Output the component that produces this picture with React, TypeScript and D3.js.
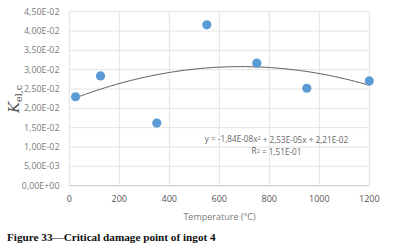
import React from "react";
import * as d3 from "d3";

const temps = [25, 125, 350, 550, 750, 950, 1200];
const kValues = [0.0230, 0.0284, 0.0162, 0.0416, 0.0317, 0.0252, 0.0271];
const yTicks = [0, 0.005, 0.01, 0.015, 0.02, 0.025, 0.03, 0.035, 0.04, 0.045];
const xTicks = [0, 200, 400, 600, 800, 1000, 1200];
const trendCoef = [-1.84e-8, 2.53e-5, 2.21e-2];
const eqText = "y = -1,84E-08x";
const eqText2 = " + 2,53E-05x + 2,21E-02";
const r2Text = " = 1,51E-01";
const xTitle = "Temperature (°C)";
const caption = "Figure 33—Critical damage point of ingot 4";

function fmtY(v: number): string {
  if (v === 0) return "0,00E+00";
  const e = Math.floor(Math.log10(v) + 1e-9);
  const m = v / Math.pow(10, e);
  const sign = e < 0 ? "-" : "+";
  const ee = String(Math.abs(e)).padStart(2, "0");
  return m.toFixed(2).replace(".", ",") + "E" + sign + ee;
}

export default function App() {
  const x = d3.scaleLinear().domain([0, 1200]).range([69.3, 369.3]);
  const y = d3.scaleLinear().domain([0, 0.045]).range([185.7, 11.7]);
  const trendX = d3.range(temps[0], temps[temps.length - 1] + 1, 5);
  const line = d3
    .line<number>()
    .x((t) => x(t))
    .y((t) => y(trendCoef[0] * t * t + trendCoef[1] * t + trendCoef[2]));
  const font = "'Open Sans', 'Liberation Sans', sans-serif";
  return (
    <svg
      width={394}
      height={252}
      style={{ position: "absolute", left: 0, top: 0, background: "#fff" }}
    >
      {yTicks.map((t) => (
        <line key={"gy" + t} x1={x(0)} x2={x(1200)} y1={y(t)} y2={y(t)} stroke="#e3e3e3" strokeWidth={1} />
      ))}
      {xTicks.map((t) => (
        <line key={"gx" + t} x1={x(t)} x2={x(t)} y1={y(0)} y2={y(0.045)} stroke="#e3e3e3" strokeWidth={1} />
      ))}
      <line x1={x(0)} x2={x(1200)} y1={y(0)} y2={y(0)} stroke="#cfcfcf" strokeWidth={1} />
      {yTicks.map((t) => (
        <text key={"ty" + t} x={59.5} y={y(t)} dy="0.35em" textAnchor="end" fontSize={8.9} fill="#7a7a7a" fontFamily={font}>
          {fmtY(t)}
        </text>
      ))}
      {xTicks.map((t) => (
        <text key={"tx" + t} x={x(t)} y={199} dy="0.35em" textAnchor="middle" fontSize={9} fill="#555" fontFamily={font}>
          {t}
        </text>
      ))}
      <text x={219.5} y={216.5} dy="0.35em" textAnchor="middle" fontSize={9} fill="#7a7a7a" fontFamily={font}>
        {xTitle}
      </text>
      <path d={line(trendX) || ""} fill="none" stroke="#444" strokeWidth={0.9} />
      {temps.map((t, i) => (
        <circle key={"p" + i} cx={x(t)} cy={y(kValues[i])} r={4.6} fill="#5b9bd5" />
      ))}
      <text x={276.5} y={139} dy="0.35em" textAnchor="middle" fontSize={8.2} fill="#666" fontFamily={font}>
        {eqText}
        <tspan fontSize={5.5} dy="-0.3em">2</tspan>
        <tspan dy="0.3em">{eqText2}</tspan>
      </text>
      <text x={276.5} y={151.5} dy="0.35em" textAnchor="middle" fontSize={8.2} fill="#666" fontFamily={font}>
        R<tspan fontSize={5.5} dy="-0.3em">2</tspan>
        <tspan dy="0.3em">{r2Text}</tspan>
      </text>
      <text
        transform="translate(19,99) rotate(-90)"
        textAnchor="middle"
        fontFamily="'DejaVu Serif', 'Liberation Serif', serif"
        fill="#555"
      >
        <tspan fontSize={15} fontStyle="italic">K</tspan>
        <tspan fontSize={9.5} dy="3">el,c</tspan>
      </text>
      <text x={7} y={237} dy="0.35em" fontSize={11.2} fontWeight="bold" fill="#111" fontFamily="'Liberation Serif', serif">
        {caption}
      </text>
    </svg>
  );
}
